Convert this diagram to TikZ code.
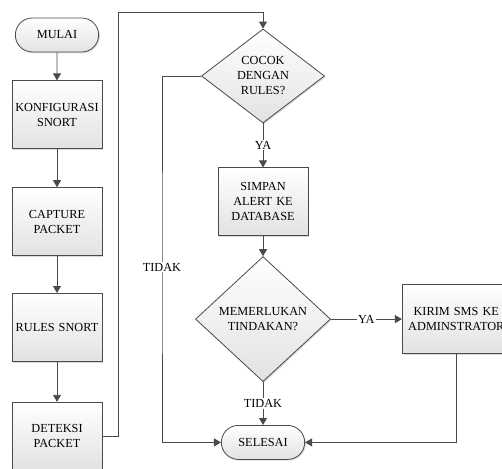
\documentclass[tikz,border=0pt]{standalone}
\usepackage{fontspec}
\setmainfont{Liberation Serif}
\usepackage{tikz}
\usetikzlibrary{arrows.meta,positioning,shapes.geometric,shapes.misc,shadows}
\definecolor{garis}{HTML}{4A4A4A}
\definecolor{isiAtas}{HTML}{FFFFFF}
\definecolor{isiBawah}{HTML}{E2E2E2}
\tikzset{
  bayang/.style={drop shadow={shadow xshift=1.2pt, shadow yshift=-1.2pt, fill=black!18, opacity=0.8}},
  proses/.style={draw=garis, line width=0.8pt, align=center, font=\fontsize{12.3}{15}\selectfont, inner sep=2pt, text width=#1, minimum height=68pt, top color=isiAtas, bottom color=isiBawah, bayang},
  proses/.default=86pt,
  keputusan/.style={draw=garis, line width=0.8pt, diamond, align=center, font=\fontsize{12.3}{15}\selectfont, inner sep=1pt, top color=isiAtas, bottom color=isiBawah, bayang},
  terminal/.style={draw=garis, line width=0.8pt, rounded rectangle, align=center, font=\fontsize{12.3}{15}\selectfont, minimum width=90pt, minimum height=34pt, top color=isiAtas, bottom color=isiBawah, bayang},
  label/.style={fill=white, inner sep=1pt, font=\fontsize{12.3}{15}\selectfont},
  panah/.style={-{Triangle[length=7pt,width=8pt]}, draw=garis, line width=0.9pt},
}
\begin{document}
\begin{tikzpicture}[x=1pt, y=-1pt]
\useasboundingbox (0,0) rectangle (502,468);

\node[terminal] (mulai) at (57,35) {MULAI};
\node[proses, below=28pt of mulai] (konf) {KONFIGURASI\\SNORT};
\node[proses, below=38pt of konf] (capture) {CAPTURE\\PACKET};
\node[proses, below=37pt of capture] (rules) {RULES SNORT};
\node[proses, below=40pt of rules] (deteksi) {DETEKSI\\PACKET};

\node[keputusan, minimum width=123pt, minimum height=94pt, aspect=1.3] (cocok) at (263,76) {COCOK\\DENGAN\\RULES?};
\node[proses, below=44pt of cocok] (simpan) {SIMPAN\\ALERT KE\\DATABASE};
\node[keputusan, minimum width=135pt, minimum height=125pt, aspect=1.08, below=20pt of simpan] (perlu) {MEMERLUKAN\\TINDAKAN?};
\node[proses=104pt, minimum height=69pt, right=71pt of perlu] (kirim) {KIRIM SMS KE\\ADMINSTRATOR};
\node[terminal, below=43pt of perlu] (selesai) {SELESAI};

\coordinate (atas) at (118,12);
\coordinate (kiri) at (162,267);

\draw[panah] (mulai) -- (konf);
\draw[panah] (konf) -- (capture);
\draw[panah] (capture) -- (rules);
\draw[panah] (rules) -- (deteksi);
\draw[panah] (deteksi.east) -| (atas) -| (cocok.north);
\draw[panah] (cocok.south) -- node[label] {YA} (simpan.north);
\draw[panah] (simpan) -- (perlu);
\draw[panah] (perlu.east) -- node[label] {YA} (kirim.west);
\draw[panah] (perlu.south) -- node[label] {TIDAK} (selesai.north);
\draw[panah] (cocok.west) -| (kiri) |- (selesai.west);
\draw[panah] (kirim.south) |- (selesai.east);
\node[label] (tidak) at (kiri) {TIDAK};
\end{tikzpicture}
\end{document}
